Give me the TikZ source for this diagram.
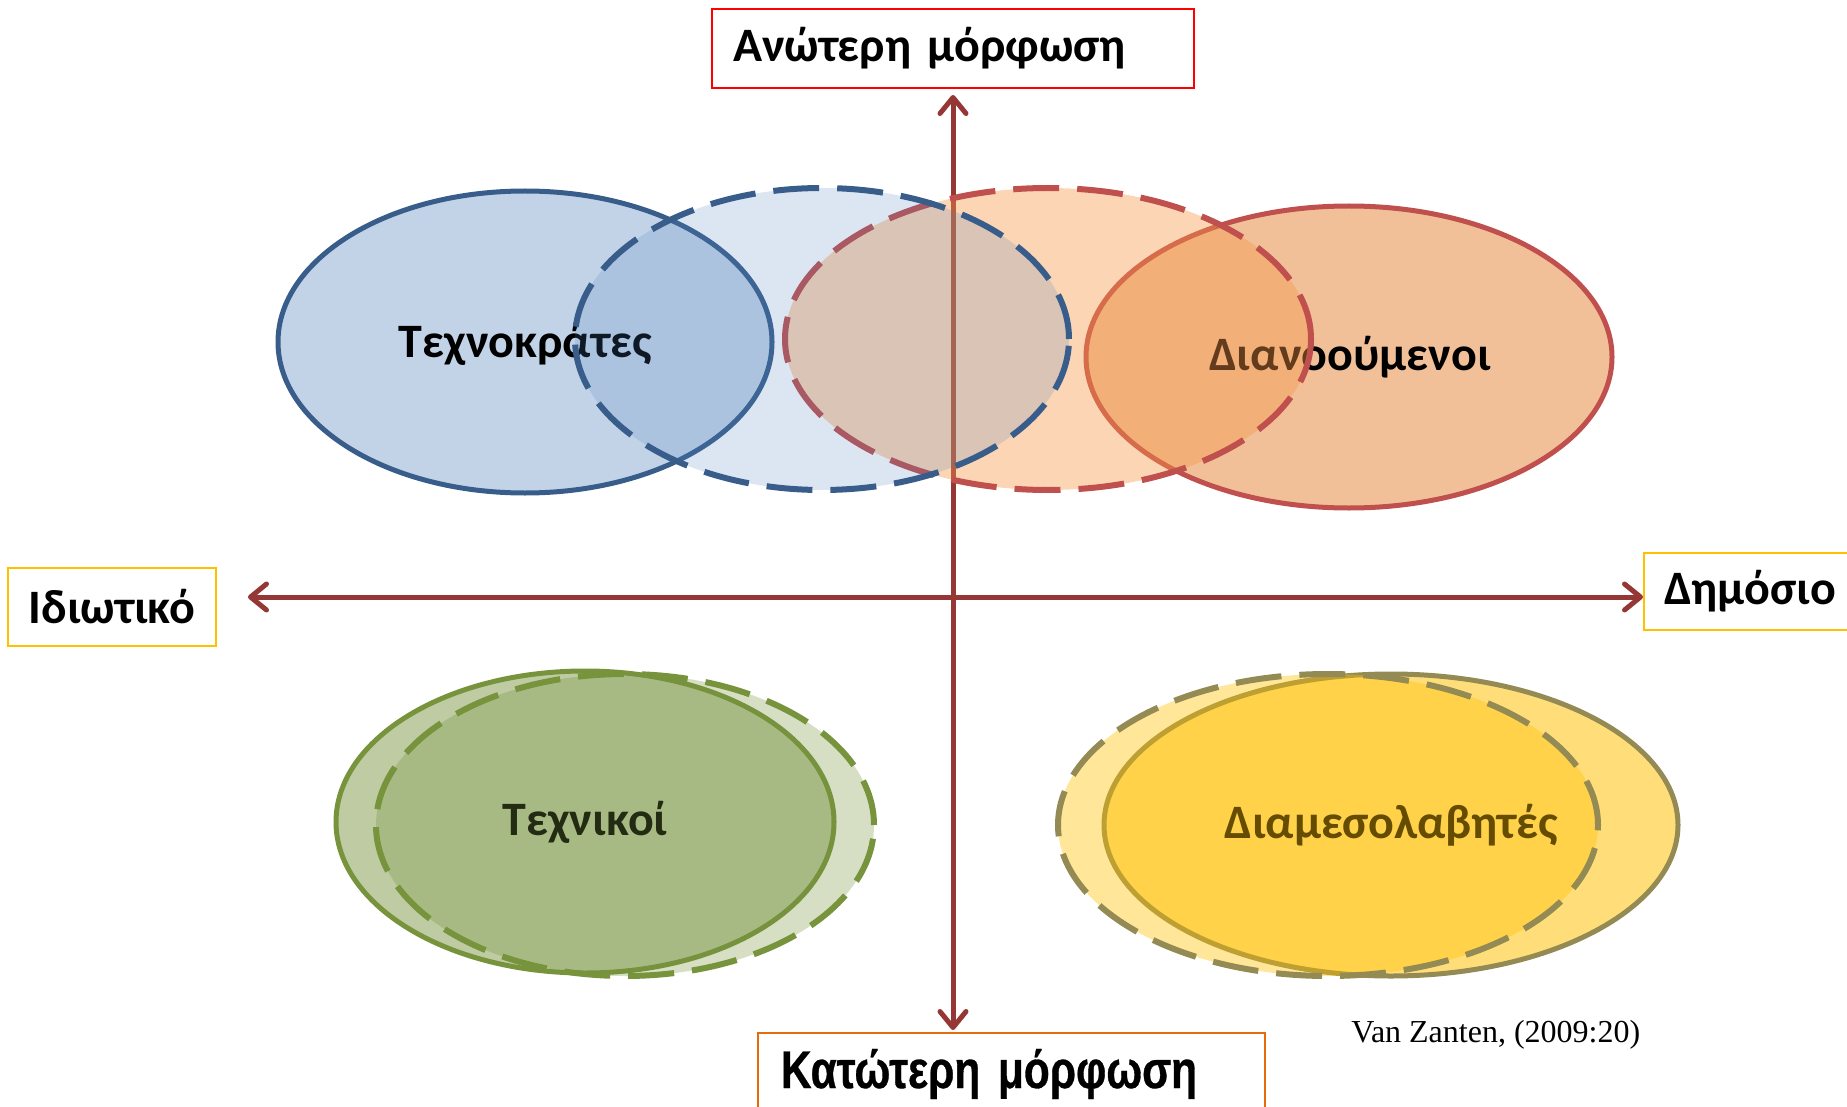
\documentclass[tikz,border=0pt]{standalone}
\usepackage{fontspec}
\setmainfont{Carlito}
\newfontfamily\narrowfont[FakeStretch=0.8,FakeBold=0.6]{Liberation Sans}
\newfontfamily\citefont{Liberation Serif}
\usetikzlibrary{arrows.meta,calc}
\definecolor{axisred}{HTML}{953735}
\definecolor{boxred}{HTML}{FF0000}
\definecolor{boxgold}{HTML}{FFC000}
\definecolor{boxorange}{HTML}{E46C0A}
\definecolor{bluefill}{HTML}{4F81BD}
\definecolor{bluestroke}{HTML}{385D8A}
\definecolor{redstroke}{HTML}{C0504D}
\definecolor{orangefill}{HTML}{F79646}
\definecolor{dianofill}{RGB}{230,140,70}
\definecolor{greenfill}{HTML}{76923C}
\definecolor{greenstroke}{HTML}{77933C}
\definecolor{goldfill}{HTML}{FFC000}
\definecolor{olivestroke}{HTML}{948A54}
\tikzset{
  lbox/.style={draw, line width=1pt, fill=white, inner ysep=0pt,
    font=\bfseries\fontsize{24}{28}\selectfont, anchor=north west},
  axisline/.style={draw=axisred, line width=2.5pt,
    {Straight Barb[length=8pt,width=13pt,round]}-{Straight Barb[length=8pt,width=13pt,round]}},
  solidell/.style={line width=2.5pt},
  dashell/.style={line width=3pt, dash pattern=on 23pt off 9pt},
  elabel/.style={font=\bfseries\fontsize{24}{28}\selectfont, inner sep=0pt},
}
\begin{document}
\begin{tikzpicture}[x=0.5pt,y=-0.5pt]
\useasboundingbox (0,0) rectangle (1847,1107);
\clip (0,0) rectangle (1847,1107);

% label boxes
\node (top) [lbox, draw=boxred, minimum width=241pt, minimum height=39.5pt,
  inner xsep=10.5pt, text width=220pt, align=left] at (711,8) {Ανώτερη μόρφωση};
\node (bot) [lbox, draw=boxorange, minimum width=253.5pt, minimum height=41pt,
  inner xsep=11.5pt, text width=230.5pt, align=left,
  font=\narrowfont\bfseries\fontsize{26.5}{30}\selectfont] at (757,1032) {Κατώτερη μόρφωση};
\node (left) [lbox, draw=boxgold, minimum width=104pt, minimum height=39pt,
  inner xsep=0pt, text width=104pt, align=center] at (7,567) {Ιδιωτικό};
\node (right) [lbox, draw=boxgold, minimum width=113.5pt, minimum height=38.5pt,
  inner xsep=10pt, text width=93.5pt, align=left] at (1643,552) {Δημόσιο};
\node (cite) [anchor=base west, inner sep=0pt, font=\citefont\fontsize{16}{19}\selectfont]
  at (1351,1042) {Van Zanten, (2009:20)};

% axes
\draw[axisline, shorten <=3pt, shorten >=1pt] (top.south) -- (top.south |- bot.north);
\coordinate (xl) at (248,597);
\draw[axisline] (xl) -- (xl -| right.west);

% upper cluster
\filldraw[solidell, draw=redstroke, fill=dianofill, fill opacity=0.55]
  (1349,357) ellipse [x radius=131.5pt, y radius=75.5pt];
\node (dian) [elabel] at (1350,357) {Διανοούμενοι};
\filldraw[solidell, draw=bluestroke, fill=bluefill, fill opacity=0.35]
  (525,342) ellipse [x radius=123.5pt, y radius=75.5pt];
\node (tech) [elabel] at (525,344) {Τεχνοκράτες};
\filldraw[dashell, draw=redstroke, fill=orangefill, fill opacity=0.4]
  (1048,339) ellipse [x radius=131.5pt, y radius=75.5pt];
\filldraw[dashell, draw=bluestroke, fill=bluefill, fill opacity=0.2]
  (822,339) ellipse [x radius=123.5pt, y radius=75.5pt];

% lower left cluster
\filldraw[solidell, draw=greenstroke, fill=greenfill, fill opacity=0.47]
  (585,822) ellipse [x radius=124.5pt, y radius=75.5pt];
\node (techn) [elabel] at (585,822) {Τεχνικοί};
\filldraw[dashell, draw=greenstroke, fill=greenfill, fill opacity=0.3]
  (625,825) ellipse [x radius=124.5pt, y radius=75.5pt];

% lower right cluster
\filldraw[solidell, draw=olivestroke, fill=goldfill, fill opacity=0.52]
  (1391,825) ellipse [x radius=143.5pt, y radius=75.5pt];
\node (diam) [elabel] at (1391,825) {Διαμεσολαβητές};
\filldraw[dashell, draw=olivestroke, fill=goldfill, fill opacity=0.4]
  (1328,825) ellipse [x radius=135pt, y radius=75.5pt];
\end{tikzpicture}
\end{document}
